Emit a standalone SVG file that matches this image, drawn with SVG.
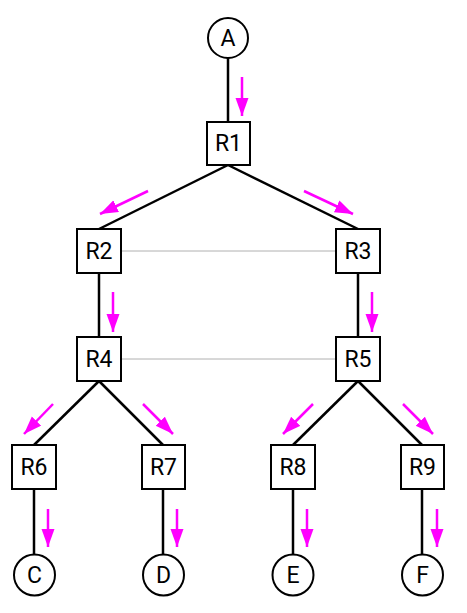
<svg xmlns="http://www.w3.org/2000/svg" width="467" height="613" viewBox="0 0 467 613">
<style>
.box{fill:#fff;stroke:#000;stroke-width:2}
.circ{fill:#fff;stroke:#000;stroke-width:2}
.edge{stroke:#000;stroke-width:2.5;fill:none}
.peer{stroke:#b0b0b0;stroke-width:1;fill:none}
.flow{stroke:#f0f;stroke-width:2.5;fill:none;marker-end:url(#ah)}
text{font-family:Roboto,"Liberation Sans",sans-serif;font-size:23px;text-anchor:middle;dominant-baseline:central;fill:#000}
</style>
<defs>
<marker id="ah" markerUnits="userSpaceOnUse" markerWidth="20" markerHeight="14" refX="18" refY="6.5" orient="auto">
<path d="M0,0 L18,6.5 L0,13 Z" fill="#f0f"/>
</marker>
</defs>
<rect width="467" height="613" fill="#fff"/>
<g id="connectors">
<line class="edge" x1="228" y1="58" x2="228" y2="122"/>
<line class="edge" x1="228" y1="165" x2="99" y2="229"/>
<line class="edge" x1="228" y1="165" x2="358" y2="229"/>
<line class="edge" x1="99" y1="273" x2="99" y2="337"/>
<line class="edge" x1="358" y1="273" x2="358" y2="337"/>
<line class="edge" x1="99" y1="381" x2="34" y2="445"/>
<line class="edge" x1="99" y1="381" x2="163" y2="445"/>
<line class="edge" x1="358" y1="381" x2="293" y2="445"/>
<line class="edge" x1="358" y1="381" x2="422" y2="445"/>
<line class="edge" x1="34" y1="489" x2="34" y2="555"/>
<line class="edge" x1="163" y1="489" x2="163" y2="555"/>
<line class="edge" x1="293" y1="489" x2="293" y2="555"/>
<line class="edge" x1="422" y1="489" x2="422" y2="555"/>
<line class="peer" x1="121" y1="251" x2="336" y2="251"/>
<line class="peer" x1="121" y1="359" x2="336" y2="359"/>
<line class="flow" x1="242" y1="77" x2="242" y2="116"/>
<line class="flow" x1="148" y1="191" x2="100" y2="214"/>
<line class="flow" x1="304" y1="191" x2="353" y2="214"/>
<line class="flow" x1="113" y1="292" x2="113" y2="332"/>
<line class="flow" x1="372" y1="292" x2="372" y2="332"/>
<line class="flow" x1="53" y1="404" x2="24" y2="434"/>
<line class="flow" x1="143" y1="404" x2="173" y2="434"/>
<line class="flow" x1="313" y1="404" x2="283" y2="434"/>
<line class="flow" x1="403" y1="404" x2="433" y2="434"/>
<line class="flow" x1="48" y1="509" x2="48" y2="547"/>
<line class="flow" x1="177" y1="509" x2="177" y2="547"/>
<line class="flow" x1="307" y1="509" x2="307" y2="547"/>
<line class="flow" x1="437" y1="509" x2="437" y2="547"/>
</g>
<g id="A"><circle class="circ" cx="228" cy="38" r="20"/><text x="228" y="38">A</text></g>
<g id="R1"><rect class="box" x="207" y="122" width="43" height="43"/><text x="228.5" y="143.5">R1</text></g>
<g id="R2"><rect class="box" x="77" y="229" width="44" height="44"/><text x="99" y="251">R2</text></g>
<g id="R3"><rect class="box" x="336" y="229" width="44" height="44"/><text x="358" y="251">R3</text></g>
<g id="R4"><rect class="box" x="77" y="337" width="44" height="44"/><text x="99" y="359">R4</text></g>
<g id="R5"><rect class="box" x="336" y="337" width="44" height="44"/><text x="358" y="359">R5</text></g>
<g id="R6"><rect class="box" x="12" y="445" width="44" height="44"/><text x="34" y="467">R6</text></g>
<g id="R7"><rect class="box" x="142" y="445" width="43" height="44"/><text x="163.5" y="467">R7</text></g>
<g id="R8"><rect class="box" x="271" y="445" width="44" height="44"/><text x="293" y="467">R8</text></g>
<g id="R9"><rect class="box" x="401" y="445" width="43" height="44"/><text x="422.5" y="467">R9</text></g>
<g id="C"><circle class="circ" cx="34.5" cy="575" r="20.5"/><text x="34.5" y="575">C</text></g>
<g id="D"><circle class="circ" cx="163.5" cy="575" r="20.5"/><text x="163.5" y="575">D</text></g>
<g id="E"><circle class="circ" cx="293" cy="575" r="20.5"/><text x="293" y="575">E</text></g>
<g id="F"><circle class="circ" cx="422.5" cy="575" r="20.5"/><text x="422.5" y="575">F</text></g>
</svg>
